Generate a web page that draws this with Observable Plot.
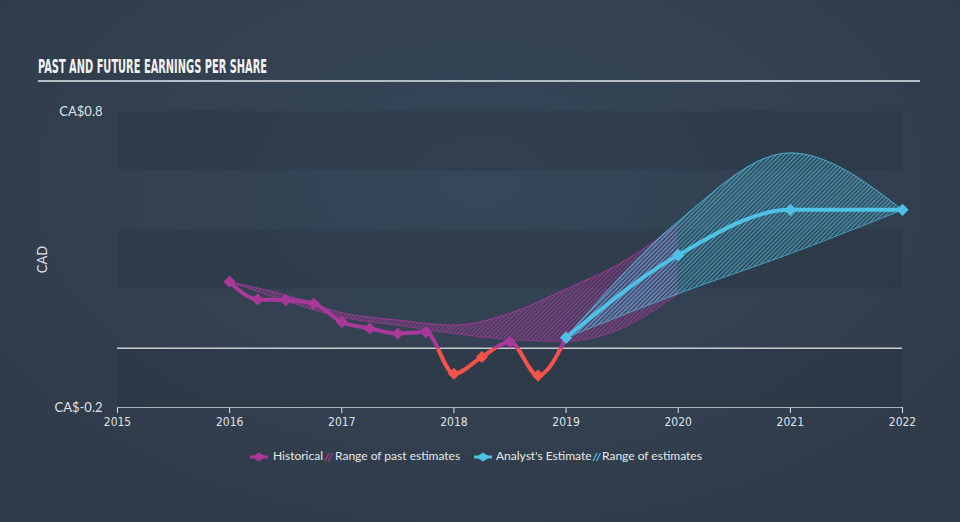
<!DOCTYPE html>
<html>
<head>
<meta charset="utf-8">
<script src="https://cdn.jsdelivr.net/npm/d3@7"></script>
<script src="https://cdn.jsdelivr.net/npm/@observablehq/plot@0.6"></script>
<style>
  html, body { margin: 0; padding: 0; }
  body {
    width: 960px; height: 522px; overflow: hidden; position: relative;
    background: radial-gradient(ellipse 70% 80% at 50% 35%, #36475a 0%, #323f4e 60%, #2f3a48 100%);
    font-family: Lato, "Open Sans", sans-serif;
  }
  #title {
    position: absolute; left: 38px; top: 55px; color: #f2f2f2;
    font-family: "Liberation Sans Narrow", "DejaVu Sans Condensed", "Liberation Sans", sans-serif;
    font-weight: bold; font-size: 19px; letter-spacing: 0; white-space: nowrap;
    transform-origin: 0 0;
  }
  #rule { position: absolute; left: 38px; top: 80px; width: 882px; height: 2px; background: #b6bcc4; }
  #chart { position: absolute; left: 0; top: 90px; }
  #legend { position: absolute; top: 448px; left: 249px; height: 18px; color: #e6e8ea; font-size: 12px; white-space: nowrap; }
  #legend span.item { position: absolute; top: 0px; }
  #legend svg { position: absolute; }
</style>
</head>
<body>
<div id="title">PAST AND FUTURE EARNINGS PER SHARE</div>
<div id="rule"></div>
<div id="chart"></div>
<div id="legend"></div>
<script>
// ---- data ----
const histYears = [2016, 2016.25, 2016.5, 2016.75, 2017, 2017.25, 2017.5, 2017.75, 2018, 2018.25, 2018.5, 2018.75, 2019];
const histEps   = [0.225, 0.165, 0.163, 0.151, 0.089, 0.067, 0.050, 0.055, -0.086, -0.029, 0.021, -0.092, 0.036];

const estYears = [2019, 2020, 2021, 2022];
const estEps   = [0.036, 0.315, 0.468, 0.468];
const estHigh  = [0.036, 0.428, 0.660, 0.468];
const estLow   = [0.036, 0.185, 0.320, 0.468];

const pastRangeYears = [2016, 2016.5, 2017, 2017.5, 2018, 2018.5, 2019, 2019.5, 2020];
const pastRangeHigh  = [0.225, 0.180, 0.120, 0.095, 0.078, 0.118, 0.200, 0.290, 0.420];
const pastRangeLow   = [0.225, 0.160, 0.105, 0.078, 0.050, 0.030, 0.024, 0.068, 0.185];

const bandLow  = [0.6, 0.2, -0.2];
const bandHigh = [0.8, 0.4, 0.0];

const xTicks = [2015, 2016, 2017, 2018, 2019, 2020, 2021, 2022];
const yTicks = [-0.2, 0.8];

const legendLabels = ["Historical", "Range of past estimates", "Analyst's Estimate", "Range of estimates"];

// ---- colors ----
const MAGENTA = "#a9389b";
const RED = "#f5524a";
const CYAN = "#4ec1e6";

// ---- tables ----
const hist = histYears.map((x, i) => ({x, y: histEps[i]}));
const est = estYears.map((x, i) => ({x, y: estEps[i], hi: estHigh[i], lo: estLow[i]}));
const past = pastRangeYears.map((x, i) => ({x, hi: pastRangeHigh[i], lo: pastRangeLow[i]}));
const bands = bandLow.map((lo, i) => ({lo, hi: bandHigh[i]}));

const plot = Plot.plot({
  width: 960,
  height: 345,
  marginLeft: 117,
  marginRight: 58,
  marginTop: 21,
  marginBottom: 28,
  style: {background: "transparent", color: "#dfe3e7", fontSize: "12px", fontFamily: "Lato, 'Open Sans', sans-serif"},
  x: {domain: [2015, 2022], ticks: xTicks, tickFormat: d => `${d}`, tickSize: 6, tickPadding: 4, label: null},
  y: {domain: [-0.2, 0.8], ticks: yTicks, tickFormat: d => `CA$${d}`, tickSize: 0, tickPadding: 15,
      label: "CAD", labelArrow: false, labelAnchor: "center", labelOffset: 80},
  marks: [
    Plot.rectY(bands, {x1: 2015, x2: 2022, y1: "lo", y2: "hi", fill: "#1e2833", fillOpacity: 0.22}),
    Plot.ruleY([-0.2], {stroke: "#aab3bd", strokeWidth: 1}),
    Plot.ruleY([0], {stroke: "#c9cdd2", strokeWidth: 1.5}),
    Plot.areaY(past, {x: "x", y1: "lo", y2: "hi", curve: "monotone-x", fill: "url(#hatchPink)"}),
    Plot.line(past, {x: "x", y: "hi", curve: "monotone-x", stroke: MAGENTA, strokeWidth: 1, strokeOpacity: 0.8}),
    Plot.line(past, {x: "x", y: "lo", curve: "monotone-x", stroke: MAGENTA, strokeWidth: 1, strokeOpacity: 0.8}),
    Plot.areaY(est, {x: "x", y1: "lo", y2: "hi", curve: "monotone-x", fill: "url(#hatchCyan)"}),
    Plot.line(est, {x: "x", y: "hi", curve: "monotone-x", stroke: CYAN, strokeWidth: 1, strokeOpacity: 0.8}),
    Plot.line(est, {x: "x", y: "lo", curve: "monotone-x", stroke: CYAN, strokeWidth: 1, strokeOpacity: 0.8}),
    Plot.line(hist, {x: "x", y: "y", curve: "monotone-x", stroke: "url(#histGrad)", strokeWidth: 4}),
    Plot.dot(hist.filter(d => d.y >= 0), {x: "x", y: "y", symbol: "diamond2", r: 5.5, fill: MAGENTA, stroke: "none"}),
    Plot.dot(hist.filter(d => d.y < 0), {x: "x", y: "y", symbol: "diamond2", r: 5.5, fill: RED, stroke: "none"}),
    Plot.line(est, {x: "x", y: "y", curve: "monotone-x", stroke: CYAN, strokeWidth: 4}),
    Plot.dot(est, {x: "x", y: "y", symbol: "diamond2", r: 5.5, fill: CYAN, stroke: "none"})
  ]
});

// defs: hatch patterns and a gradient splitting the historical line at zero
const y0 = plot.scale("y").apply(0);
const svgH = 345;
const defs = d3.select(plot).insert("defs", ":first-child");
function hatch(id, color, op) {
  const p = defs.append("pattern").attr("id", id).attr("patternUnits", "userSpaceOnUse")
    .attr("width", 3).attr("height", 3).attr("patternTransform", "rotate(45)");
  p.append("line").attr("x1", 0.75).attr("y1", 0).attr("x2", 0.75).attr("y2", 3)
    .attr("stroke", color).attr("stroke-width", 1.3).attr("stroke-opacity", op);
}
hatch("hatchPink", MAGENTA, 0.85);
hatch("hatchCyan", CYAN, 0.75);
const g = defs.append("linearGradient").attr("id", "histGrad").attr("gradientUnits", "userSpaceOnUse")
  .attr("x1", 0).attr("x2", 0).attr("y1", 0).attr("y2", svgH);
g.append("stop").attr("offset", y0 / svgH).attr("stop-color", MAGENTA);
g.append("stop").attr("offset", y0 / svgH).attr("stop-color", RED);

// condensed x tick labels, larger y tick labels
d3.select(plot).selectAll("g[aria-label='x-axis tick label'] text")
  .style("font-family", "'Liberation Sans Narrow', 'DejaVu Sans Condensed', sans-serif")
  .style("font-size", "12px");
d3.select(plot).selectAll("g[aria-label='y-axis tick label'] text")
  .style("font-size", "13px");
d3.select(plot).selectAll("g[aria-label='y-axis label'] text")
  .style("font-size", "13px");

document.getElementById("chart").appendChild(plot);

// title width fit
const t = document.getElementById("title");
const tw = t.getBoundingClientRect().width;
t.style.transform = `scaleX(${229 / tw})`;

// legend
const legend = d3.select("#legend");
function lineIcon(x, color) {
  const s = legend.append("svg").attr("width", 20).attr("height", 12).style("left", x + "px").style("top", "3px");
  s.append("line").attr("x1", 1).attr("x2", 19).attr("y1", 6).attr("y2", 6).attr("stroke", color).attr("stroke-width", 3);
  s.append("path").attr("d", "M3,6L10,1.5L17,6L10,10.5Z").attr("fill", color);
}
function hatchIcon(x, color) {
  const s = legend.append("svg").attr("width", 10).attr("height", 12).style("left", x + "px").style("top", "3px");
  [0, 3.5].forEach(o => s.append("line").attr("x1", 1 + o).attr("y1", 10).attr("x2", 5 + o).attr("y2", 2)
    .attr("stroke", color).attr("stroke-width", 1.3));
}
function label(x, text) {
  legend.append("span").attr("class", "item").style("left", x + "px").text(text);
}
lineIcon(0, MAGENTA);
label(24, legendLabels[0]);
hatchIcon(75, MAGENTA);
label(86, legendLabels[1]);
lineIcon(224, CYAN);
label(247, legendLabels[2]);
hatchIcon(343, CYAN);
label(353, legendLabels[3]);
</script>
</body>
</html>
